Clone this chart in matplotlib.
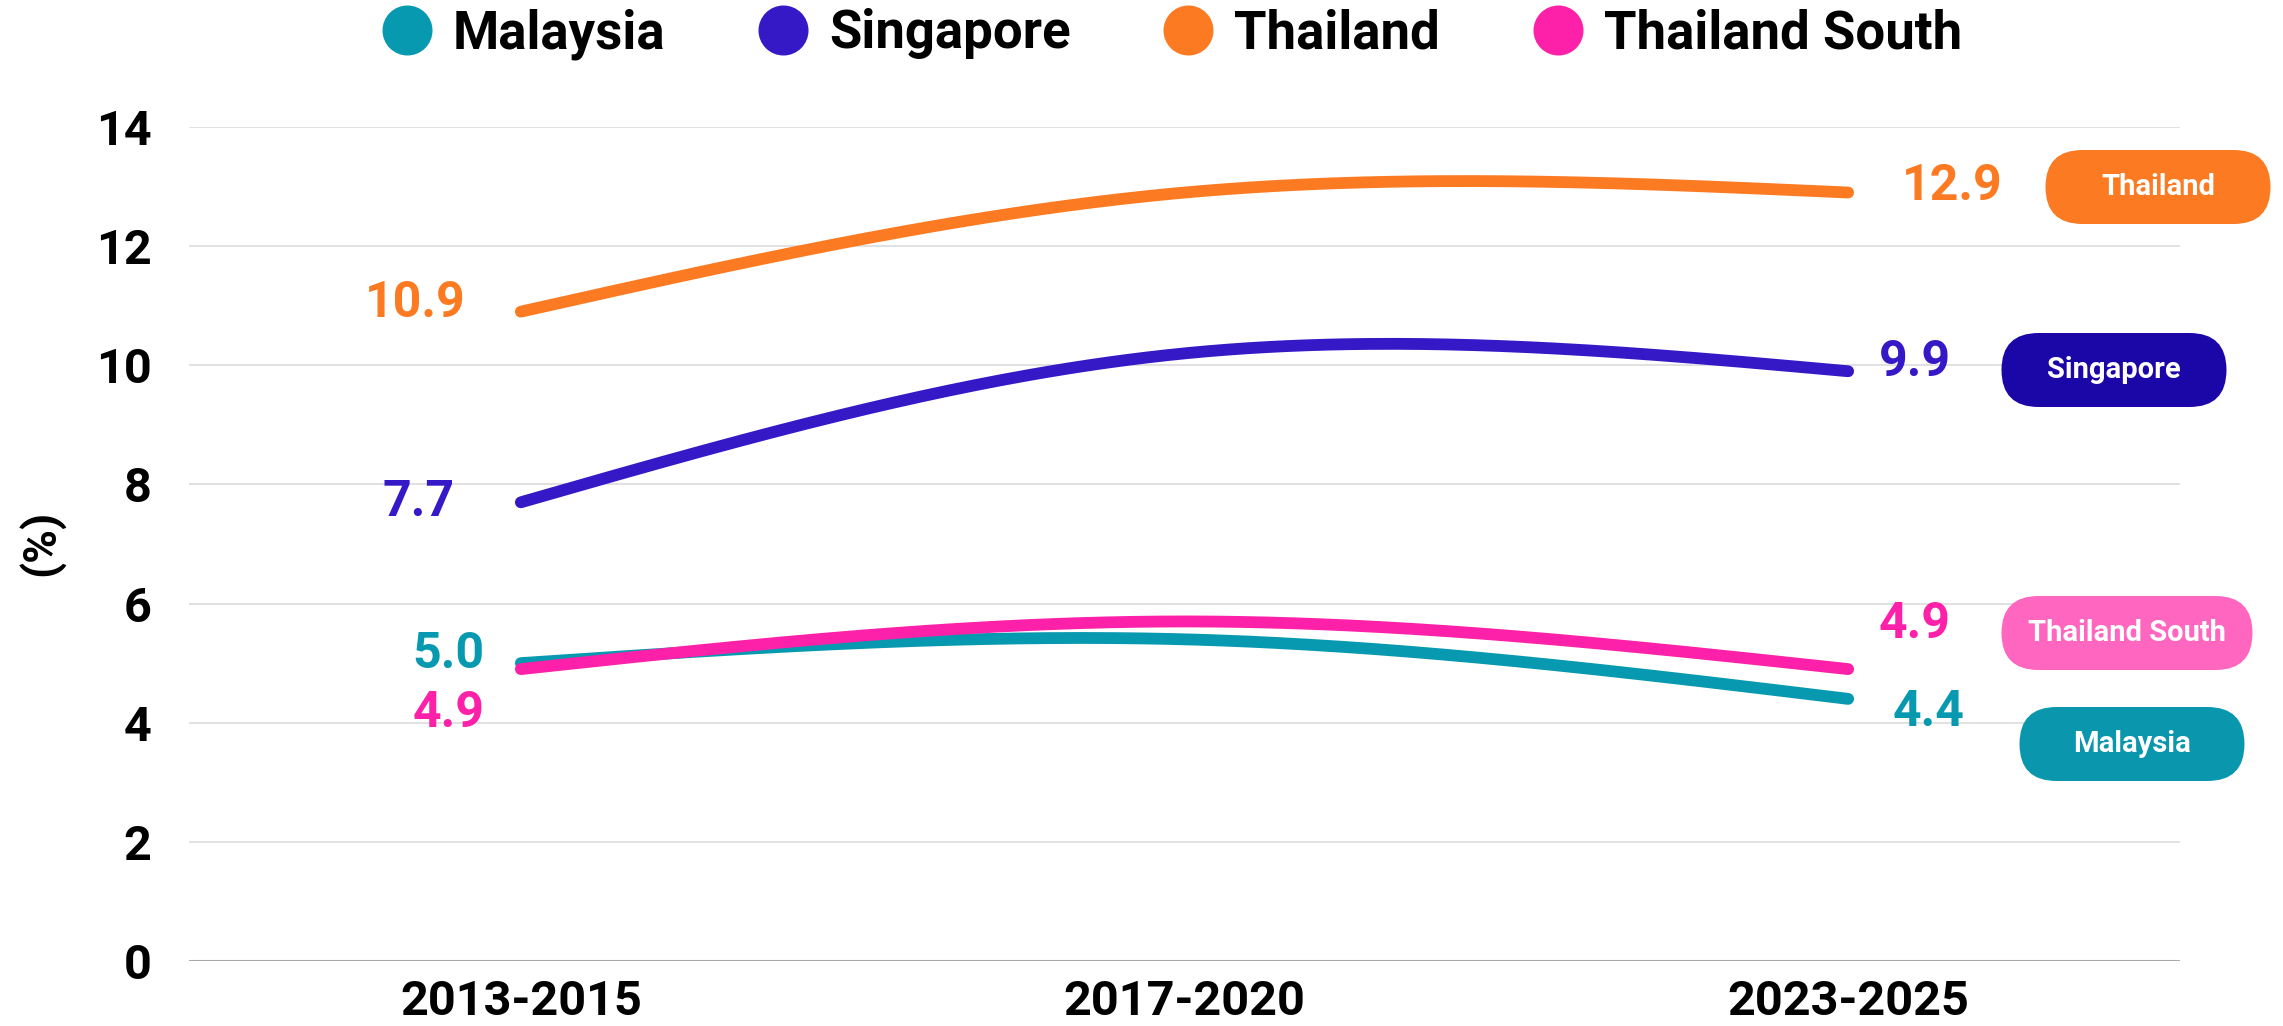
import numpy as np
import matplotlib
matplotlib.use("Agg")
import matplotlib.pyplot as plt
from matplotlib.lines import Line2D
from matplotlib.patches import FancyBboxPatch
from matplotlib.transforms import IdentityTransform

plt.rcParams["font.family"] = ["Roboto", "DejaVu Sans"]
plt.rcParams["font.weight"] = "bold"

periods = ["2013-2015", "2017-2020", "2023-2025"]
series = ["Malaysia", "Singapore", "Thailand", "Thailand South"]
malaysia = [5.0, 5.4, 4.4]
singapore = [7.7, 10.2, 9.9]
thailand = [10.9, 12.9, 12.9]
thailand_south = [4.9, 5.7, 4.9]
values = [malaysia, singapore, thailand, thailand_south]

line_colors = ["#0799AF", "#3519C7", "#FC7A22", "#FD20A8"]
badge_colors = ["#0A97AE", "#1B06A8", "#FB7A22", "#FF66C0"]

# label offsets (points) for first / last value
left_off = [(-26, 6), (-48, 0), (-40, 6), (-26, -32)]
right_off = [(32, -10), (22, 6), (39, 4), (22, 32)]
# badge centre / size in image pixels
badges = [(2132, 744, 225, 74), (2114, 370, 225, 74),
          (2158, 187, 225, 74), (2127, 633, 251, 74)]


def natural_spline(y, n=200):
    y = np.asarray(y, float)
    k = len(y)
    A = np.zeros((k, k))
    b = np.zeros(k)
    A[0, 0] = A[-1, -1] = 1
    for i in range(1, k - 1):
        A[i, i - 1], A[i, i], A[i, i + 1] = 1, 4, 1
        b[i] = 6 * (y[i - 1] - 2 * y[i] + y[i + 1])
    M = np.linalg.solve(A, b)
    xs = np.linspace(0, k - 1, n)
    idx = np.minimum(xs.astype(int), k - 2)
    t = xs - idx
    u = 1 - t
    ys = (u * y[idx] + t * y[idx + 1]
          + ((u ** 3 - u) * M[idx] + (t ** 3 - t) * M[idx + 1]) / 6)
    return xs, ys


W, H = 2283, 1026
fig = plt.figure(figsize=(W / 100, H / 100), dpi=100, facecolor="white")
ax = fig.add_axes([189 / W, 1 - 961 / H, (2180 - 189) / W, (961 - 127) / H])

for yv in range(0, 15, 2):
    ax.axhline(yv, color="#aaaaaa" if yv == 0 else "#d9d9d9",
               lw=2.2 if yv == 0 else 1.1, zorder=0)

for name, vals, c, lo, ro in zip(series, values, line_colors, left_off, right_off):
    xs, ys = natural_spline(vals)
    ax.plot(xs, ys, color=c, lw=8.5, solid_capstyle="round", zorder=3)
    ax.annotate(f"{vals[0]:.1f}", (0, vals[0]), xytext=lo, textcoords="offset points",
                ha="right", va="center", color=c, fontsize=36, fontweight="bold")
    ax.annotate(f"{vals[-1]:.1f}", (2, vals[-1]), xytext=ro, textcoords="offset points",
                ha="left", va="center", color=c, fontsize=36, fontweight="bold")

ax.set_xlim(-0.5, 2.5)
ax.set_ylim(0, 14)
ax.set_xticks(range(len(periods)))
ax.set_xticklabels(periods)
ax.set_yticks(range(0, 15, 2))
ax.tick_params(axis="x", length=0, pad=13, labelsize=35)
ax.tick_params(axis="y", length=0, pad=27, labelsize=35)
for s in ax.spines.values():
    s.set_visible(False)
ax.set_ylabel("(%)", fontsize=33, fontweight="bold")
ax.yaxis.set_label_coords(-0.062, 0.501)

# pills on the right
for (cx, cy, w, h), name, bc in zip(badges, series, badge_colors):
    yd = H - cy
    p = FancyBboxPatch((cx - w / 2, yd - h / 2), w, h,
                       boxstyle=f"round,pad=0,rounding_size={h / 2}",
                       transform=IdentityTransform(), facecolor=bc, edgecolor="none")
    fig.patches.append(p)
    fig.text(cx / W, 1 - cy / H, name, ha="center", va="center",
             color="white", fontsize=21, fontweight="bold")

handles = [Line2D([], [], marker="o", linestyle="none", markersize=35,
                  markerfacecolor=c, markeredgecolor=c) for c in line_colors]
fig.legend(handles, series, loc="center", bbox_to_anchor=(0.513, 0.967), ncol=4,
           frameon=False, fontsize=38, handlelength=1.0, handletextpad=0.38,
           columnspacing=1.72, borderaxespad=0)

fig.savefig("out.png", dpi=100, facecolor="white")
